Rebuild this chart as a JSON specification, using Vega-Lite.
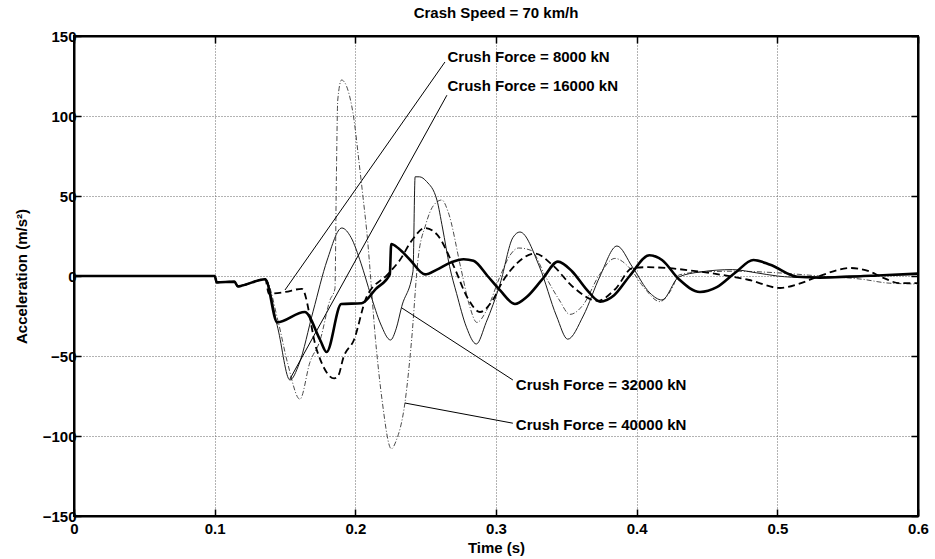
{
 "$schema": "https://vega.github.io/schema/vega-lite/v6.json",
 "width": 844, "height": 480,
 "autosize": {"type": "none"},
 "padding": {"left": 74, "top": 36, "right": 17, "bottom": 43},
 "background": "white",
 "title": {"text": "Crash Speed = 70 km/h", "fontSize": 15, "fontWeight": "bold", "font": "Liberation Sans", "anchor": "middle", "offset": 8, "color": "black"},
 "config": {
  "view": {"stroke": "black", "strokeWidth": 2},
  "axis": {"domainColor": "black", "domainWidth": 2, "tickColor": "black", "tickWidth": 1.5, "tickSize": -7,
   "labelFont": "Liberation Sans", "labelFontSize": 15, "labelFontWeight": "bold", "labelColor": "black",
   "titleFont": "Liberation Sans", "titleFontSize": 15, "titleFontWeight": "bold", "titleColor": "black",
   "gridColor": "#666", "gridDash": [1, 2], "gridWidth": 1}
 },
 "datasets": {
  "curves": [
   {"s":"16000","t":0,"a":0},{"s":"16000","t":0.1,"a":0},{"s":"16000","t":0.1015,"a":-4},{"s":"16000","t":0.114,"a":-3.5},{"s":"16000","t":0.1165,"a":-6.5},{"s":"16000","t":0.1195,"a":-6},{"s":"16000","t":0.136,"a":-2},{"s":"16000","t":0.1445,"a":-29},{"s":"16000","t":0.164,"a":-22.5},{"s":"16000","t":0.175,"a":-40},{"s":"16000","t":0.1796,"a":-47.5},{"s":"16000","t":0.19,"a":-17.5},{"s":"16000","t":0.2045,"a":-17},{"s":"16000","t":0.2146,"a":-8},{"s":"16000","t":0.2245,"a":1},{"s":"16000","t":0.2255,"a":20},{"s":"16000","t":0.231,"a":17},{"s":"16000","t":0.239,"a":10},{"s":"16000","t":0.2495,"a":1},{"s":"16000","t":0.258,"a":4},{"s":"16000","t":0.268,"a":8.5},{"s":"16000","t":0.277,"a":10.5},{"s":"16000","t":0.284,"a":9.5},{"s":"16000","t":0.294,"a":0},{"s":"16000","t":0.303,"a":-9},{"s":"16000","t":0.3135,"a":-17.5},{"s":"16000","t":0.322,"a":-13},{"s":"16000","t":0.333,"a":-2},{"s":"16000","t":0.344,"a":9},{"s":"16000","t":0.354,"a":3},{"s":"16000","t":0.364,"a":-8},{"s":"16000","t":0.374,"a":-16},{"s":"16000","t":0.384,"a":-12},{"s":"16000","t":0.395,"a":0},{"s":"16000","t":0.409,"a":13},{"s":"16000","t":0.418,"a":10},{"s":"16000","t":0.43,"a":-2},{"s":"16000","t":0.445,"a":-10},{"s":"16000","t":0.457,"a":-7},{"s":"16000","t":0.47,"a":2},{"s":"16000","t":0.483,"a":10},{"s":"16000","t":0.495,"a":7},{"s":"16000","t":0.514,"a":-0.5},{"s":"16000","t":0.53,"a":-1},{"s":"16000","t":0.55,"a":-0.5},{"s":"16000","t":0.575,"a":0.5},{"s":"16000","t":0.6,"a":1.5},
   {"s":"8000","t":0,"a":0},{"s":"8000","t":0.1,"a":0},{"s":"8000","t":0.1015,"a":-4},{"s":"8000","t":0.114,"a":-3.5},{"s":"8000","t":0.1165,"a":-6.5},{"s":"8000","t":0.1195,"a":-6},{"s":"8000","t":0.136,"a":-2},{"s":"8000","t":0.1385,"a":-11},{"s":"8000","t":0.15,"a":-10},{"s":"8000","t":0.162,"a":-8},{"s":"8000","t":0.1725,"a":-46},{"s":"8000","t":0.185,"a":-64},{"s":"8000","t":0.188,"a":-62},{"s":"8000","t":0.1915,"a":-51},{"s":"8000","t":0.199,"a":-40},{"s":"8000","t":0.208,"a":-13},{"s":"8000","t":0.223,"a":1},{"s":"8000","t":0.2317,"a":10},{"s":"8000","t":0.24,"a":22},{"s":"8000","t":0.2495,"a":30},{"s":"8000","t":0.258,"a":26},{"s":"8000","t":0.27,"a":6},{"s":"8000","t":0.28,"a":-14},{"s":"8000","t":0.2886,"a":-22.5},{"s":"8000","t":0.297,"a":-16},{"s":"8000","t":0.305,"a":-3},{"s":"8000","t":0.315,"a":8},{"s":"8000","t":0.3277,"a":14},{"s":"8000","t":0.34,"a":7},{"s":"8000","t":0.355,"a":-7},{"s":"8000","t":0.372,"a":-15.5},{"s":"8000","t":0.385,"a":-8},{"s":"8000","t":0.397,"a":5},{"s":"8000","t":0.408,"a":5.5},{"s":"8000","t":0.421,"a":5},{"s":"8000","t":0.445,"a":2.7},{"s":"8000","t":0.462,"a":0.5},{"s":"8000","t":0.48,"a":-2.5},{"s":"8000","t":0.502,"a":-7.5},{"s":"8000","t":0.515,"a":-5},{"s":"8000","t":0.53,"a":0},{"s":"8000","t":0.552,"a":5},{"s":"8000","t":0.565,"a":3},{"s":"8000","t":0.575,"a":-1},{"s":"8000","t":0.587,"a":-4.5},{"s":"8000","t":0.6,"a":-4.5},
   {"s":"32000","t":0,"a":0},{"s":"32000","t":0.1,"a":0},{"s":"32000","t":0.1015,"a":-4},{"s":"32000","t":0.114,"a":-3.5},{"s":"32000","t":0.1165,"a":-6.5},{"s":"32000","t":0.1195,"a":-6},{"s":"32000","t":0.136,"a":-2},{"s":"32000","t":0.145,"a":-33},{"s":"32000","t":0.1535,"a":-65},{"s":"32000","t":0.16,"a":-55},{"s":"32000","t":0.17,"a":-22},{"s":"32000","t":0.18,"a":10},{"s":"32000","t":0.1904,"a":30},{"s":"32000","t":0.197,"a":24},{"s":"32000","t":0.204,"a":8},{"s":"32000","t":0.211,"a":-12},{"s":"32000","t":0.218,"a":-30},{"s":"32000","t":0.225,"a":-40},{"s":"32000","t":0.229,"a":-33},{"s":"32000","t":0.233,"a":-19},{"s":"32000","t":0.241,"a":3},{"s":"32000","t":0.2425,"a":62},{"s":"32000","t":0.2455,"a":62},{"s":"32000","t":0.2507,"a":59},{"s":"32000","t":0.258,"a":47.5},{"s":"32000","t":0.262,"a":30},{"s":"32000","t":0.267,"a":6},{"s":"32000","t":0.272,"a":-11},{"s":"32000","t":0.279,"a":-32},{"s":"32000","t":0.286,"a":-42.5},{"s":"32000","t":0.293,"a":-29},{"s":"32000","t":0.303,"a":-4.6},{"s":"32000","t":0.312,"a":24},{"s":"32000","t":0.317,"a":27.5},{"s":"32000","t":0.331,"a":5.6},{"s":"32000","t":0.343,"a":-25},{"s":"32000","t":0.351,"a":-39.5},{"s":"32000","t":0.362,"a":-25},{"s":"32000","t":0.374,"a":0},{"s":"32000","t":0.386,"a":18.75},{"s":"32000","t":0.397,"a":5.6},{"s":"32000","t":0.4094,"a":-10.6},{"s":"32000","t":0.418,"a":-15},{"s":"32000","t":0.43,"a":-0.6},{"s":"32000","t":0.445,"a":2.5},{"s":"32000","t":0.468,"a":4},{"s":"32000","t":0.485,"a":2},{"s":"32000","t":0.5,"a":0},{"s":"32000","t":0.52,"a":-1},{"s":"32000","t":0.55,"a":0},{"s":"32000","t":0.58,"a":0.5},{"s":"32000","t":0.6,"a":1},
   {"s":"40000","t":0,"a":0},{"s":"40000","t":0.1,"a":0},{"s":"40000","t":0.1015,"a":-4},{"s":"40000","t":0.114,"a":-3.5},{"s":"40000","t":0.1165,"a":-6.5},{"s":"40000","t":0.1195,"a":-6},{"s":"40000","t":0.136,"a":-2},{"s":"40000","t":0.145,"a":-28},{"s":"40000","t":0.152,"a":-55},{"s":"40000","t":0.1606,"a":-77},{"s":"40000","t":0.1677,"a":-54},{"s":"40000","t":0.175,"a":-40},{"s":"40000","t":0.182,"a":-15},{"s":"40000","t":0.1855,"a":-8},{"s":"40000","t":0.1865,"a":60},{"s":"40000","t":0.1875,"a":110},{"s":"40000","t":0.1902,"a":122.5},{"s":"40000","t":0.1948,"a":116},{"s":"40000","t":0.1983,"a":102},{"s":"40000","t":0.2033,"a":66},{"s":"40000","t":0.2055,"a":49},{"s":"40000","t":0.208,"a":29},{"s":"40000","t":0.215,"a":-46},{"s":"40000","t":0.219,"a":-77.5},{"s":"40000","t":0.2256,"a":-108},{"s":"40000","t":0.229,"a":-103},{"s":"40000","t":0.2353,"a":-79},{"s":"40000","t":0.24,"a":-40},{"s":"40000","t":0.2445,"a":10},{"s":"40000","t":0.25,"a":32},{"s":"40000","t":0.2555,"a":44},{"s":"40000","t":0.2615,"a":47.5},{"s":"40000","t":0.266,"a":40},{"s":"40000","t":0.275,"a":5},{"s":"40000","t":0.281,"a":-18},{"s":"40000","t":0.2864,"a":-29},{"s":"40000","t":0.293,"a":-22},{"s":"40000","t":0.303,"a":0},{"s":"40000","t":0.31,"a":13},{"s":"40000","t":0.316,"a":17.5},{"s":"40000","t":0.325,"a":16},{"s":"40000","t":0.335,"a":0},{"s":"40000","t":0.345,"a":-15},{"s":"40000","t":0.3525,"a":-24},{"s":"40000","t":0.362,"a":-18},{"s":"40000","t":0.373,"a":0},{"s":"40000","t":0.3845,"a":11},{"s":"40000","t":0.395,"a":5},{"s":"40000","t":0.405,"a":-7},{"s":"40000","t":0.4165,"a":-16},{"s":"40000","t":0.425,"a":-8},{"s":"40000","t":0.43,"a":0.6},{"s":"40000","t":0.445,"a":2.5},{"s":"40000","t":0.47,"a":3},{"s":"40000","t":0.5,"a":2},{"s":"40000","t":0.53,"a":0},{"s":"40000","t":0.56,"a":-2},{"s":"40000","t":0.58,"a":-4.5},{"s":"40000","t":0.6,"a":-5}
  ],
  "notes": [
   {"label": "Crush Force = 8000 kN", "t1": 0.2637, "a1": 133.75, "t2": 0.15, "a2": -8.75, "tx": 0.2655, "ay": 137},
   {"label": "Crush Force = 16000 kN", "t1": 0.2651, "a1": 113, "t2": 0.1535, "a2": -64.4, "tx": 0.2655, "ay": 118.5},
   {"label": "Crush Force = 32000 kN", "t1": 0.312, "a1": -65, "t2": 0.2331, "a2": -20, "tx": 0.3141, "ay": -68},
   {"label": "Crush Force = 40000 kN", "t1": 0.312, "a1": -92, "t2": 0.2353, "a2": -79.4, "tx": 0.3141, "ay": -93}
  ]
 },
 "layer": [
  {
   "data": {"name": "curves"},
   "transform": [{"filter": "datum.s === '40000'"}],
   "mark": {"type": "line", "interpolate": "monotone", "color": "#4a4a4a", "strokeWidth": 1, "strokeDash": [5, 2, 1, 2]},
   "encoding": {
    "x": {"field": "t", "type": "quantitative", "scale": {"domain": [0, 0.6], "nice": false},
     "axis": {"orient": "bottom", "values": [0, 0.1, 0.2, 0.3, 0.4, 0.5, 0.6], "format": "~g", "grid": true, "labelPadding": 12, "labelFlush": false, "title": "Time (s)", "titlePadding": 4}},
    "y": {"field": "a", "type": "quantitative", "scale": {"domain": [-150, 150], "nice": false},
     "axis": {"orient": "left", "values": [-150, -100, -50, 0, 50, 100, 150], "grid": true, "labelPadding": 5, "labelFlush": false, "title": "Acceleration (m/s²)", "titlePadding": 13}}
   }
  },
  {
   "data": {"name": "curves"},
   "transform": [{"filter": "datum.s === '32000'"}],
   "mark": {"type": "line", "interpolate": "monotone", "color": "#1a1a1a", "strokeWidth": 1},
   "encoding": {
    "x": {"field": "t", "type": "quantitative", "axis": null},
    "y": {"field": "a", "type": "quantitative", "axis": null}
   }
  },
  {
   "data": {"name": "curves"},
   "transform": [{"filter": "datum.s === '8000'"}],
   "mark": {"type": "line", "interpolate": "monotone", "color": "black", "strokeWidth": 1.8, "strokeDash": [7, 4]},
   "encoding": {
    "x": {"field": "t", "type": "quantitative", "axis": null},
    "y": {"field": "a", "type": "quantitative", "axis": null}
   }
  },
  {
   "data": {"name": "curves"},
   "transform": [{"filter": "datum.s === '16000'"}],
   "mark": {"type": "line", "interpolate": "monotone", "color": "black", "strokeWidth": 2.6},
   "encoding": {
    "x": {"field": "t", "type": "quantitative", "axis": null},
    "y": {"field": "a", "type": "quantitative", "axis": null}
   }
  },
  {
   "data": {"name": "notes"},
   "mark": {"type": "rule", "color": "black", "strokeWidth": 1},
   "encoding": {
    "x": {"field": "t1", "type": "quantitative", "axis": {"orient": "top", "values": [0, 0.1, 0.2, 0.3, 0.4, 0.5, 0.6], "labels": false, "grid": false, "title": null}},
    "y": {"field": "a1", "type": "quantitative", "axis": {"orient": "right", "values": [-150, -100, -50, 0, 50, 100, 150], "labels": false, "grid": false, "title": null}},
    "x2": {"field": "t2"},
    "y2": {"field": "a2"}
   }
  },
  {
   "data": {"name": "notes"},
   "mark": {"type": "text", "align": "left", "baseline": "middle", "font": "Liberation Sans", "fontSize": 15, "fontWeight": "bold", "color": "black"},
   "encoding": {
    "x": {"field": "tx", "type": "quantitative", "axis": null},
    "y": {"field": "ay", "type": "quantitative", "axis": null},
    "text": {"field": "label"}
   }
  }
 ],
 "resolve": {"axis": {"x": "independent", "y": "independent"}}
}
